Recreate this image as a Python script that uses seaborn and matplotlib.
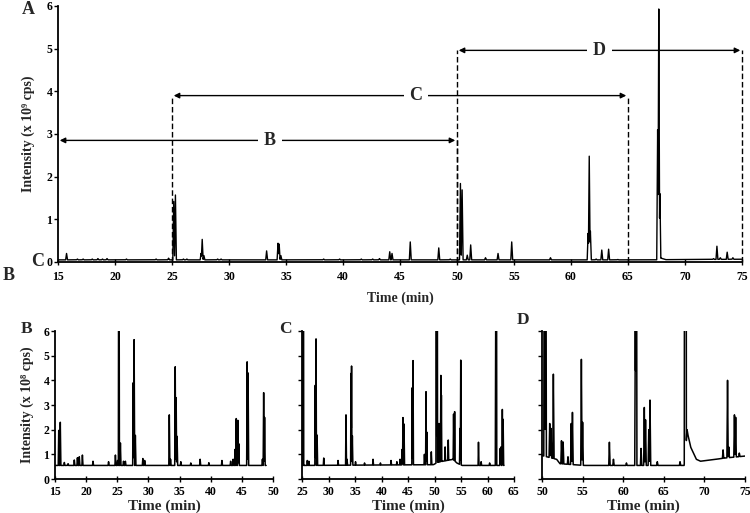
import numpy as np
import pandas as pd
import seaborn as sns
import matplotlib.pyplot as plt

# panel A, whole run (x 10^9 cps)
a_peak_t = [15.75, 16.7, 17.2, 18.0, 18.5, 18.9, 19.3, 21.0, 23.6, 24.7, 25.15, 25.3, 26.0, 26.3,
            27.55, 27.65, 27.8, 29.0, 29.3, 33.3, 34.3, 34.4, 34.55, 38.3, 39.7, 41.6, 42.6, 43.2,
            44.1, 44.3, 45.9, 48.4, 49.4, 50.3, 50.45, 50.9, 51.2, 52.5, 53.6, 54.8, 58.2,
            61.5, 61.6, 61.7, 62.2, 62.7, 63.3, 64.1, 67.6, 67.7, 67.8, 72.5, 72.8, 73.1, 73.7, 74.2]
a_peak_v = [0.2, 0.07, 0.07, 0.07, 0.08, 0.07, 0.08, 0.07, 0.07, 0.09, 1.42, 1.57, 0.07, 0.07,
            0.2, 0.53, 0.15, 0.07, 0.07, 0.26, 0.44, 0.42, 0.15, 0.07, 0.07, 0.07, 0.07, 0.08,
            0.24, 0.2, 0.47, 0.33, 0.07, 1.84, 1.69, 0.16, 0.4, 0.1, 0.2, 0.47, 0.1,
            0.67, 2.48, 0.72, 0.07, 0.28, 0.3, 0.06, 3.1, 5.93, 1.6, 0.08, 0.37, 0.1, 0.23, 0.1]
a_base_t = [15, 67.5, 67.9, 68.3, 75]
a_base_v = [0.05, 0.05, 0.09, 0.055, 0.065]

# panel B, 15-50 min (x 10^8 cps)
b_peak_t = [15.6, 15.85, 16.5, 17.1, 18.1, 18.6, 18.9, 19.4, 21.1, 23.6, 24.7, 25.05, 25.25, 25.5,
            26.0, 26.3, 27.55, 27.7, 27.9, 29.1, 29.4, 33.35, 33.55, 34.3, 34.45, 34.6, 35.2, 36.8,
            38.3, 39.7, 41.8, 43.2, 43.6, 43.9, 44.1, 44.35, 44.5, 45.85, 46.0, 48.3, 48.5, 48.65]
b_peak_v = [1.97, 2.3, 0.67, 0.62, 0.77, 0.86, 0.9, 0.97, 0.72, 0.7, 0.97, 0.75, 15.7, 1.46,
            0.72, 0.72, 3.9, 5.65, 1.77, 0.83, 0.75, 2.6, 0.8, 4.55, 3.3, 1.73, 0.7, 0.65,
            0.8, 0.66, 0.75, 0.72, 0.8, 1.2, 2.45, 2.38, 1.43, 4.75, 4.3, 0.8, 3.5, 2.5]
b_base_t = [15, 48.9]
b_base_v = [0.55, 0.55]

# panel C, 25-65 min
c_peak_t = [25.25, 26.0, 26.3, 27.5, 27.65, 27.85, 29.1, 31.8, 33.3, 33.5, 34.25, 34.35, 34.5,
            35.1, 36.8, 38.4, 39.8, 41.8, 42.9, 43.5, 43.9, 44.05, 44.25, 45.8, 45.95, 48.1, 48.4,
            48.55, 49.4, 50.35, 50.5, 50.85, 51.2, 51.3, 52.0, 52.6, 53.6, 53.8, 54.8, 54.95,
            58.3, 58.8, 60.4, 61.55, 61.65, 62.4, 62.55, 62.8, 62.95]
c_peak_v = [15.7, 0.75, 0.72, 3.8, 5.68, 1.78, 0.85, 0.75, 2.6, 0.8, 4.28, 4.58, 1.75,
            0.7, 0.65, 0.8, 0.65, 0.75, 0.7, 0.8, 1.2, 2.49, 2.23, 3.7, 4.8, 1.0, 3.54,
            1.9, 1.1, 18.4, 16.9, 2.25, 4.2, 3.4, 1.3, 1.58, 2.63, 2.73, 2.05, 4.82,
            1.49, 0.7, 0.65, 6.7, 24.8, 1.24, 1.3, 2.82, 2.42]
c_base_t = [25, 49.8, 50.6, 53.5, 54.2, 55.2, 63.1]
c_base_v = [0.55, 0.58, 0.68, 0.8, 0.65, 0.55, 0.55]

# panel D, 50-75 min
d_peak_t = [50.3, 50.45, 50.95, 51.1, 51.4, 52.4, 52.6, 53.2, 53.6, 53.75, 54.85, 55.0, 58.3,
            58.8, 60.4, 61.5, 61.6, 62.2, 62.6, 62.75, 63.15, 63.3, 64.2, 67.0, 67.6, 67.7,
            67.85, 72.3, 72.85, 73.0, 73.7, 73.85, 74.3]
d_peak_v = [18.4, 16.9, 2.25, 2.05, 4.25, 1.55, 1.5, 0.9, 2.25, 2.7, 4.85, 2.3, 1.49,
            0.8, 0.65, 6.7, 24.8, 1.24, 2.9, 2.4, 2.0, 3.2, 0.7, 0.7, 31.0, 59.3,
            2.0, 1.18, 4.0, 1.3, 2.6, 2.5, 1.05]
d_base_t = [50, 51.8, 52.2, 55.2, 67.5, 67.9, 68.3, 69.0, 69.5, 71, 72.5, 75]
d_base_v = [0.95, 0.8, 0.62, 0.55, 0.55, 1.9, 1.3, 0.8, 0.72, 0.78, 0.85, 0.93]

# sub-range brackets drawn on panel A
range_names = ["B", "C", "D"]
range_start = [15, 25, 50]
range_end = [50, 65, 75]
range_level = [2.85, 3.9, 4.96]
range_label_t = [33.6, 46.4, 62.5]


def trace(base_t, base_v, peak_t, peak_v, half_w=0.08):
    t = np.union1d(np.round(np.arange(base_t[0], base_t[-1] + 1e-9, 0.005), 4), peak_t)
    base = np.interp(t, base_t, base_v)
    y = base.copy()
    for tp, h in zip(peak_t, peak_v):
        tri = base + (h - base) * np.clip(1 - np.abs(t - tp) / half_w, 0, None)
        y = np.maximum(y, tri)
    return pd.DataFrame({"time": t, "intensity": y})


sns.set_style("ticks")
plt.rcParams["font.family"] = ["Liberation Serif", "DejaVu Serif"]
plt.rcParams["font.weight"] = "bold"
plt.rcParams["axes.labelweight"] = "bold"
plt.rcParams["axes.linewidth"] = 1.3
plt.rcParams["xtick.color"] = "black"
plt.rcParams["ytick.color"] = "black"
plt.rcParams["axes.edgecolor"] = "black"

W, H = 750, 513
fig = plt.figure(figsize=(7.5, 5.13), dpi=100)


def px_axes(x0, y0, x1, y1):
    return fig.add_axes([x0 / W, 1 - y1 / H, (x1 - x0) / W, (y1 - y0) / H])


axA = px_axes(58, 6, 742, 262)
axB = px_axes(55, 331, 273, 479)
axC = px_axes(302, 331, 514, 479)
axD = px_axes(542, 331, 745, 479)

sns.lineplot(data=trace(a_base_t, a_base_v, a_peak_t, a_peak_v), x="time", y="intensity",
             ax=axA, color="black", lw=1.0, estimator=None, sort=False)
axA.set_xlim(15, 75)
axA.set_ylim(0, 6)
axA.set_xticks(range(15, 76, 5))
axA.set_yticks(range(0, 7))
axA.set_xlabel("Time (min)", fontsize=10, labelpad=6)
axA.set_ylabel("Intensity (x 10⁹ cps)", fontsize=10, labelpad=8)
axA.tick_params(axis="x", direction="inout", length=5, width=1, labelsize=8.5, pad=4)
axA.tick_params(axis="y", direction="out", length=3, width=1, labelsize=8.5, pad=1)

for name, t0, t1, lev, tl in zip(range_names, range_start, range_end, range_level, range_label_t):
    axA.annotate("", xy=(t0 + 0.15, lev), xytext=(t1 - 0.15, lev),
                 arrowprops=dict(arrowstyle="<|-|>", color="black", lw=1, mutation_scale=8,
                                 shrinkA=0, shrinkB=0))
    for te in (t0, t1):
        if te > 15:
            axA.plot([te, te], [0, lev], color="black", lw=1, dashes=(4, 2), clip_on=False)
    axA.text(tl, lev, name, ha="center", va="center", fontsize=13, fontweight="bold",
             bbox=dict(facecolor="white", edgecolor="none", pad=4))

panels = [
    (axB, b_base_t, b_base_v, b_peak_t, b_peak_v, 15, 50),
    (axC, c_base_t, c_base_v, c_peak_t, c_peak_v, 25, 65),
    (axD, d_base_t, d_base_v, d_peak_t, d_peak_v, 50, 75),
]
for ax, bt, bv, pt, pv, lo, hi in panels:
    sns.lineplot(data=trace(bt, bv, pt, pv), x="time", y="intensity", ax=ax,
                 color="black", lw=1.1, estimator=None, sort=False)
    ax.set_xlim(lo, hi)
    ax.set_ylim(0, 6)
    ax.set_xticks(range(lo, hi + 1, 5))
    ax.set_yticks(range(0, 7))
    ax.set_xlabel("Time (min)", fontsize=11, labelpad=1)
    ax.set_ylabel("")
    ax.tick_params(axis="x", direction="inout", length=4, width=1, labelsize=8.5, pad=3)
    ax.tick_params(axis="y", direction="out", length=3, width=1, labelsize=8.5, pad=1)
    if ax is not axB:
        ax.set_yticklabels([])

axB.set_ylabel("Intensity (x 10⁸ cps)", fontsize=10, labelpad=7)

for a in (axA, axB, axC, axD):
    sns.despine(ax=a)

# panel letters
for txt, x, y, fs in [("A", 28, 10, 13), ("C", 38, 262, 13), ("B", 9, 275, 13),
                      ("B", 27, 329, 12.5), ("C", 285, 329, 12.5), ("D", 523, 320, 12.5)]:
    fig.text(x / W, 1 - y / H, txt, ha="center", va="center", fontsize=fs, fontweight="bold")

fig.savefig("out.png", dpi=100)
